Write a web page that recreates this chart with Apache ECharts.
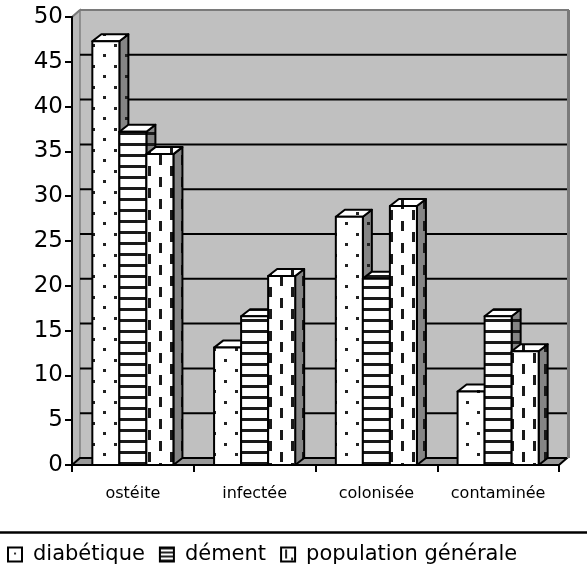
<!DOCTYPE html>
<html><head><meta charset="utf-8">
<script src="https://cdn.jsdelivr.net/npm/echarts@6/dist/echarts.min.js"></script>
<style>html,body{margin:0;padding:0;background:#fff}#c{width:587px;height:579px}</style>
</head><body><div id="c"></div>
<script>
// ---- data ----
const categories = ['ostéite', 'infectée', 'colonisée', 'contaminée'];
const seriesNames = ['diabétique', 'dément', 'population générale'];
const diabetique = [47.3, 13.1, 27.7, 8.2];
const dement = [37.2, 16.6, 20.8, 16.6];
const populationGenerale = [34.7, 21.1, 28.9, 12.7];
const yTickValues = [0, 5, 10, 15, 20, 25, 30, 35, 40, 45, 50];

// ---- styles ----
const WALL_DX = 8, WALL_DY = -7;
const BAR_DX = 9, BAR_DY = -7;
const FONT = 'DejaVu Sans';

function tile(w, h, bg, draw) {
  const c = document.createElement('canvas');
  c.width = w; c.height = h;
  const g = c.getContext('2d');
  g.fillStyle = bg; g.fillRect(0, 0, w, h);
  draw(g);
  return { image: c, repeat: 'repeat' };
}
const drawDots = g => { g.fillStyle = '#222'; g.fillRect(4, 2, 3, 3); g.fillRect(15, 12, 3, 3); };
const drawStripes = g => { g.fillStyle = '#1a1a1a'; g.fillRect(0, 0, 11, 3); };
const drawDashes = g => { g.fillStyle = '#1a1a1a'; g.fillRect(5, 1, 3, 10); g.fillRect(16, 12, 3, 10); };

const patterns = [
  { front: tile(22, 21, '#fff', drawDots), side: tile(22, 21, '#858585', drawDots) },
  { front: tile(11, 11, '#fff', drawStripes), side: tile(11, 11, '#858585', drawStripes) },
  { front: tile(22, 22, '#fff', drawDashes), side: tile(22, 22, '#858585', drawDashes) }
];
const legendPatterns = [
  tile(14, 14, '#fff', g => { g.fillStyle = '#333'; g.fillRect(6, 5, 2, 2); }),
  tile(14, 4, '#fff', g => { g.fillStyle = '#222'; g.fillRect(0, 0, 14, 2); }),
  tile(14, 14, '#fff', g => { g.fillStyle = '#222'; g.fillRect(4, 2, 2, 9); g.fillRect(10, 10, 2, 3); })
];

const seriesData = [diabetique, dement, populationGenerale];

function barSeries(sIdx) {
  const pat = patterns[sIdx];
  return {
    type: 'custom',
    name: seriesNames[sIdx],
    encode: { x: 0, y: 1 },
    data: seriesData[sIdx].map((v, i) => [i, v]),
    itemStyle: { color: pat.front },
    renderItem: function (params, api) {
      const i = api.value(0), v = api.value(1);
      const base = api.coord([i, 0]);
      const top = api.coord([i, v]);
      const cw = api.size([1, 0])[0];
      const bw = cw * 0.222;
      const x0 = base[0] - 1.5 * bw + sIdx * bw;
      const x1 = x0 + bw;
      const yT = top[1], yB = base[1];
      const st = { stroke: '#000', lineWidth: 2, lineJoin: 'round' };
      return {
        type: 'group',
        children: [
          { type: 'polygon', shape: { points: [[x1, yB], [x1 + BAR_DX, yB + BAR_DY], [x1 + BAR_DX, yT + BAR_DY], [x1, yT]] },
            style: Object.assign({ fill: pat.side }, st) },
          { type: 'polygon', shape: { points: [[x0, yT], [x0 + BAR_DX, yT + BAR_DY], [x1 + BAR_DX, yT + BAR_DY], [x1, yT]] },
            style: Object.assign({ fill: pat.front }, st) },
          { type: 'rect', shape: { x: x0, y: yT, width: bw, height: yB - yT },
            style: Object.assign({ fill: pat.front }, st) }
        ]
      };
    }
  };
}

const wallSeries = {
  type: 'custom',
  name: 'walls',
  silent: true,
  encode: { x: 0, y: 1 },
  data: [[0, 0]],
  renderItem: function (params, api) {
    const cs = params.coordSys;
    const xL = cs.x, xR = cs.x + cs.width, yT = cs.y, yB = cs.y + cs.height;
    const ch = [];
    ch.push({ type: 'rect', shape: { x: xL + WALL_DX, y: yT + WALL_DY, width: cs.width, height: cs.height },
      style: { fill: '#c0c0c0' } });
    ch.push({ type: 'polygon', shape: { points: [[xL, yT], [xL + WALL_DX, yT + WALL_DY], [xL + WALL_DX, yB + WALL_DY], [xL, yB]] },
      style: { fill: '#b8b8b8', stroke: '#808080', lineWidth: 1.5 } });
    ch.push({ type: 'polygon', shape: { points: [[xL, yB], [xL + WALL_DX, yB + WALL_DY], [xR + WALL_DX, yB + WALL_DY], [xR, yB]] },
      style: { fill: '#989898', stroke: '#000', lineWidth: 2 } });
    yTickValues.forEach(t => {
      if (t === 0 || t === 50) return;
      const y = api.coord([0, t])[1] + WALL_DY;
      ch.push({ type: 'line', shape: { x1: xL + WALL_DX, y1: y, x2: xR + WALL_DX, y2: y },
        style: { stroke: '#000', lineWidth: 2 } });
    });
    ch.push({ type: 'line', shape: { x1: xL + WALL_DX, y1: yT + WALL_DY, x2: xR + WALL_DX + 2, y2: yT + WALL_DY },
      style: { stroke: '#7a7a7a', lineWidth: 2 } });
    ch.push({ type: 'line', shape: { x1: xR + WALL_DX + 1.5, y1: yT + WALL_DY, x2: xR + WALL_DX + 1.5, y2: yB + WALL_DY },
      style: { stroke: '#7a7a7a', lineWidth: 3 } });
    ch.push({ type: 'line', shape: { x1: xL, y1: yT, x2: xL + WALL_DX, y2: yT + WALL_DY },
      style: { stroke: '#7a7a7a', lineWidth: 2 } });
    return { type: 'group', children: ch };
  }
};

const chart = echarts.init(document.getElementById('c'), null, { renderer: 'canvas' });
chart.setOption({
  animation: false,
  backgroundColor: '#fff',
  grid: { left: 72, top: 17, right: 28, bottom: 114, containLabel: false },
  xAxis: {
    type: 'category',
    data: categories,
    z: 5,
    axisLine: { show: true, lineStyle: { color: '#000', width: 2 } },
    axisTick: { show: true, interval: 0, length: 7, lineStyle: { color: '#000', width: 2 } },
    axisLabel: { interval: 0, color: '#000', fontSize: 16, fontFamily: FONT, margin: 21 },
    splitLine: { show: false }
  },
  yAxis: {
    type: 'value',
    min: 0, max: 50, interval: 5,
    z: 5,
    axisLine: { show: true, lineStyle: { color: '#000', width: 2 } },
    axisTick: { show: true, length: 7, lineStyle: { color: '#000', width: 2 } },
    axisLabel: { color: '#000', fontSize: 23, fontFamily: FONT, margin: 9 },
    splitLine: { show: false }
  },
  legend: {
    left: 7,
    top: 544,
    padding: 0,
    itemWidth: 14,
    itemHeight: 14,
    itemGap: 14,
    icon: 'rect',
    textStyle: { color: '#000', fontSize: 21, fontFamily: FONT, padding: [0, 0, 0, 6] },
    data: seriesNames.map((n, k) => ({
      name: n,
      icon: 'rect',
      itemStyle: { color: legendPatterns[k], borderColor: '#000', borderWidth: 2 }
    }))
  },
  graphic: [{
    type: 'line', silent: true,
    shape: { x1: 0, y1: 532.5, x2: 587, y2: 532.5 },
    style: { stroke: '#000', lineWidth: 2.5 }
  }],
  series: [wallSeries, barSeries(0), barSeries(1), barSeries(2)]
});
</script>
</body></html>
